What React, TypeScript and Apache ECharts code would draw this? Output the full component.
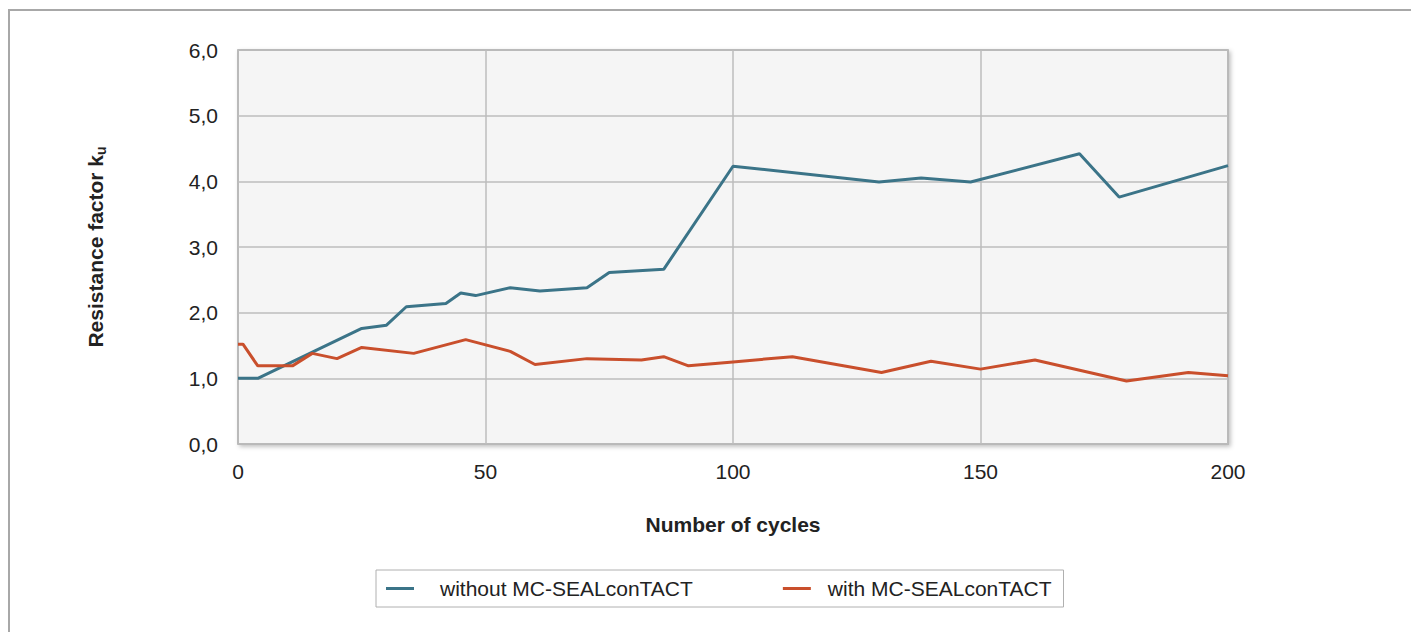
import React, { useEffect, useRef } from "react";
import * as echarts from "echarts";

const cyclesWithout = [0, 4, 25, 30, 34, 42, 45, 48, 55, 61, 70.5, 75, 86, 100, 129.5, 138, 148, 170, 178, 200];
const valuesWithout = [1.0, 1.0, 1.76, 1.81, 2.09, 2.14, 2.3, 2.26, 2.38, 2.33, 2.38, 2.61, 2.66, 4.23, 3.99, 4.05, 3.99, 4.42, 3.76, 4.24];

const cyclesWith = [0, 1, 4, 11, 15, 20, 25, 35.5, 46, 55, 60, 70.5, 81.5, 86, 91, 100, 112, 130, 140, 150, 161, 179.5, 192, 200];
const valuesWith = [1.52, 1.52, 1.19, 1.19, 1.38, 1.3, 1.47, 1.38, 1.59, 1.41, 1.21, 1.3, 1.28, 1.33, 1.19, 1.25, 1.33, 1.09, 1.26, 1.14, 1.28, 0.96, 1.09, 1.04];

const seriesNames = ["without MC-SEALconTACT", "with MC-SEALconTACT"];
const seriesColors = ["#3b7488", "#c94f2c"];

const FONT = "'Liberation Sans', Arial, Helvetica, sans-serif";
const FS = 21;

export default function App() {
  const ref = useRef<HTMLDivElement>(null);
  useEffect(() => {
    document.body.style.overflow = "hidden";
    const chart = echarts.init(ref.current!, null, { renderer: "svg" });
    const pairs = (xs: number[], ys: number[]) => xs.map((x, i) => [x, ys[i]]);
    chart.setOption({
      animation: false,
      textStyle: { fontFamily: FONT },
      graphic: [
        {
          type: "rect",
          shape: { x: 1, y: 2, width: 3000, height: 3000 },
          style: { fill: "none", stroke: "#a8a8a8", lineWidth: 2 },
          silent: true,
          z: -10,
        },
      ],
      grid: {
        left: 230,
        top: 42,
        width: 990,
        height: 394,
        show: true,
        backgroundColor: "#f5f5f5",
        borderColor: "#a0a0a0",
        borderWidth: 1.5,
        shadowColor: "rgba(0,0,0,0.25)",
        shadowBlur: 4,
        shadowOffsetX: 2,
        shadowOffsetY: 2,
      },
      legend: {
        left: 368,
        top: 562,
        padding: [8, 12, 8, 10],
        itemGap: 90,
        itemWidth: 28,
        itemHeight: 3,
        icon: "rect",
        borderColor: "#b0b0b0",
        borderWidth: 1,
        backgroundColor: "#ffffff",
        textStyle: { fontSize: FS, color: "#222", fontFamily: FONT },
        data: [
          { name: seriesNames[0], textStyle: { padding: [0, 0, 0, 21] } },
          { name: seriesNames[1], textStyle: { padding: [0, 0, 0, 12] } },
        ],
      },
      xAxis: {
        type: "value",
        min: 0,
        max: 200,
        interval: 50,
        name: "Number of cycles",
        nameLocation: "middle",
        nameGap: 70,
        nameTextStyle: { fontSize: FS, fontWeight: "bold", color: "#222", fontFamily: FONT },
        axisLine: { show: false },
        axisTick: { show: false },
        axisLabel: { fontSize: FS, color: "#222", margin: 17, fontFamily: FONT },
        splitLine: { show: true, lineStyle: { color: "#bcbcbc", width: 1.5 } },
      },
      yAxis: {
        type: "value",
        min: 0,
        max: 6,
        interval: 1,
        name: "{b|Resistance factor k}{s|u}",
        nameLocation: "middle",
        nameGap: 130,
        nameRotate: 90,
        nameTextStyle: {
          rich: {
            b: { fontSize: FS, fontWeight: "bold", color: "#222", fontFamily: FONT },
            s: { fontSize: 14, fontWeight: "bold", color: "#222", fontFamily: FONT, padding: [12, 0, 0, 0] },
          },
        },
        axisLine: { show: false },
        axisTick: { show: false },
        axisLabel: {
          fontSize: FS,
          color: "#222",
          margin: 20,
          fontFamily: FONT,
          formatter: (v: number) => v.toFixed(1).replace(".", ","),
        },
        splitLine: { show: true, lineStyle: { color: "#bcbcbc", width: 1.5 } },
      },
      series: [
        {
          name: seriesNames[0],
          type: "line",
          data: pairs(cyclesWithout, valuesWithout),
          symbol: "none",
          lineStyle: { color: seriesColors[0], width: 3 },
          itemStyle: { color: seriesColors[0] },
        },
        {
          name: seriesNames[1],
          type: "line",
          data: pairs(cyclesWith, valuesWith),
          symbol: "none",
          lineStyle: { color: seriesColors[1], width: 3 },
          itemStyle: { color: seriesColors[1] },
        },
      ],
    });
    return () => chart.dispose();
  }, []);
  return <div ref={ref} style={{ width: 1411, height: 624 }} />;
}
